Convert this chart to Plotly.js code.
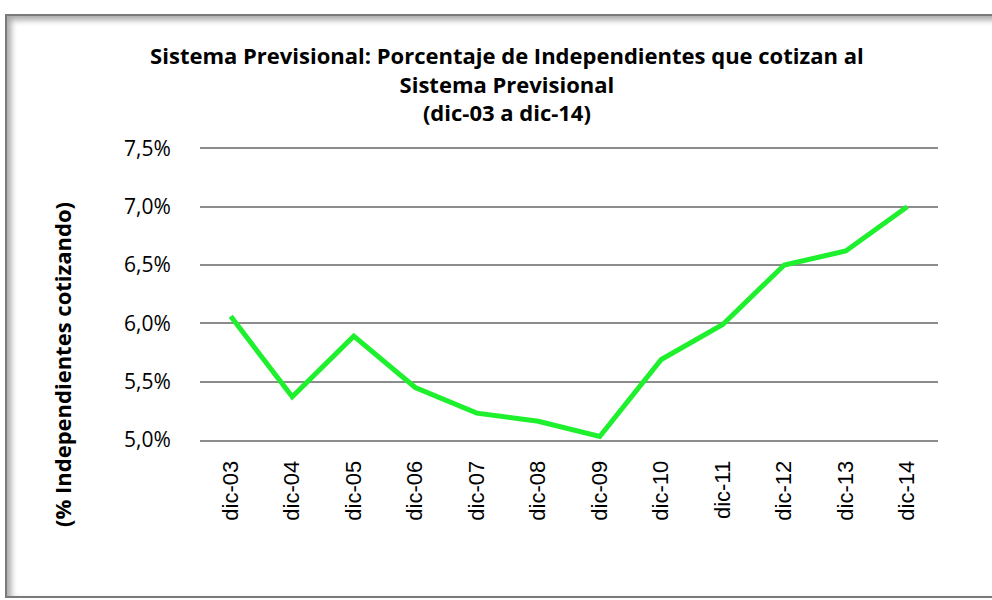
<!DOCTYPE html>
<html>
<head>
<meta charset="utf-8">
<script src="https://cdn.plot.ly/plotly-3.0.1.min.js"></script>
<style>
  html, body { margin: 0; padding: 0; background: #ffffff; }
  #chart { width: 992px; height: 600px; position: absolute; left: 0; top: 0; }
  #frame {
    position: absolute; left: 5px; top: 14px; width: 1000px; height: 584px;
    border: 2px solid #7a7a7a; box-sizing: border-box;
    box-shadow: inset 4px 4px 6px rgba(0,0,0,0.35);
    pointer-events: none;
  }
</style>
</head>
<body>
<div id="chart"></div>
<div id="frame"></div>
<script>
const categories = ['dic-03','dic-04','dic-05','dic-06','dic-07','dic-08','dic-09','dic-10','dic-11','dic-12','dic-13','dic-14'];
const pctIndependientes = [6.06, 5.37, 5.89, 5.45, 5.23, 5.16, 5.03, 5.69, 5.99, 6.50, 6.62, 7.00];
const yTicks = [5.0, 5.5, 6.0, 6.5, 7.0, 7.5];
const yTickText = yTicks.map(v => v.toFixed(1).replace('.', ',') + '%');

const trace = {
  x: categories,
  y: pctIndependientes,
  type: 'scatter',
  mode: 'lines',
  line: { color: '#1ef02e', width: 5 },
  hoverinfo: 'x+y'
};

const layout = {
  width: 992, height: 600,
  margin: { l: 200, r: 54, t: 146, b: 160 },
  paper_bgcolor: '#ffffff', plot_bgcolor: '#ffffff',
  separators: ',.',
  showlegend: false,
  title: {
    text: '<b>Sistema Previsional: Porcentaje de Independientes que cotizan al<br>Sistema Previsional<br>(dic-03 a dic-14)</b>',
    font: { family: 'Open Sans, sans-serif', size: 22, color: '#000' },
    x: 0.511, xanchor: 'center', xref: 'container',
    y: 1 - 64 / 600, yanchor: 'middle', yref: 'container'
  },
  xaxis: {
    type: 'category',
    range: [-0.5, 11.5],
    tickangle: -90,
    tickfont: { family: 'Liberation Sans, Arial, sans-serif', size: 22, color: '#000' },
    ticks: 'outside', ticklen: 10, tickcolor: 'rgba(0,0,0,0)',
    showgrid: false, zeroline: false,
    showline: true, linecolor: '#8c8c8c', linewidth: 2
  },
  yaxis: {
    range: [5.0, 7.52],
    tickvals: yTicks,
    ticktext: yTickText,
    tickfont: { family: 'Open Sans, sans-serif', size: 21, color: '#000' },
    showgrid: true, gridcolor: '#8c8c8c', gridwidth: 2,
    zeroline: false, showline: false,
    ticks: 'outside', ticklen: 24, tickcolor: 'rgba(0,0,0,0)'
  },
  annotations: [{
    text: '<b>(% Independientes cotizando)</b>',
    font: { family: 'Open Sans, sans-serif', size: 22, color: '#000' },
    textangle: -90,
    xref: 'paper', yref: 'paper',
    x: (62 - 200) / 738, y: (440 - 365) / 294,
    xanchor: 'center', yanchor: 'middle',
    showarrow: false
  }]
};

Plotly.newPlot('chart', [trace], layout, { displayModeBar: false, staticPlot: true });
</script>
</body>
</html>
